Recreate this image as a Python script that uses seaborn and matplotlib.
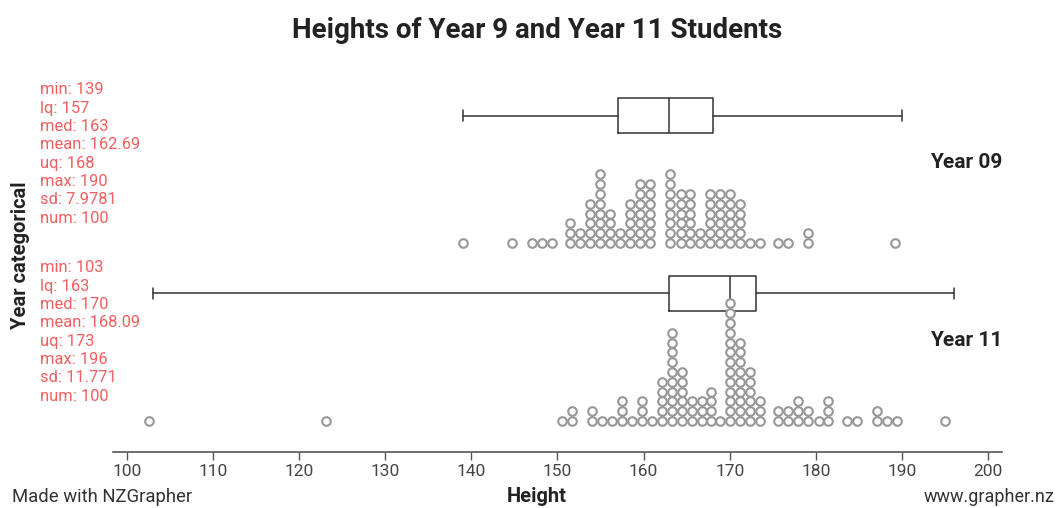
import numpy as np
import pandas as pd
import matplotlib
matplotlib.use("Agg")
import matplotlib.pyplot as plt
import seaborn as sns

# ---------------- data ----------------
title = "Heights of Year 9 and Year 11 Students"
groups = ["Year 09", "Year 11"]

# dot-plot columns: height position (cm) and number of stacked dots
year09_heights = [139.0, 144.7, 147.0, 148.2, 149.4, 151.4, 152.6, 153.8, 154.9, 156.1,
                  157.3, 158.4, 159.6, 160.7, 163.1, 164.3, 165.4, 166.6, 167.7, 168.9,
                  170.0, 171.2, 172.4, 173.5, 175.6, 176.8, 179.1, 189.2]
year09_counts = [1, 1, 1, 1, 1, 3, 2, 5, 8, 4,
                 2, 5, 7, 7, 8, 6, 6, 2, 6, 6,
                 6, 5, 1, 1, 1, 1, 2, 1]

year11_heights = [102.6, 123.1, 150.5, 151.7, 154.0, 155.2, 156.3, 157.5, 158.7, 159.8,
                  161.0, 162.1, 163.3, 164.5, 165.6, 166.8, 167.8, 168.9, 170.0, 171.2,
                  172.4, 173.5, 175.6, 176.8, 177.9, 179.1, 180.3, 181.4, 183.6, 184.8,
                  187.1, 188.3, 189.4, 195.0]
year11_counts = [1, 1, 1, 2, 2, 1, 1, 3, 1, 3,
                 1, 5, 10, 6, 3, 3, 4, 1, 13, 9,
                 6, 3, 2, 2, 3, 2, 1, 3, 1, 1,
                 2, 1, 1, 1]

stat_names = ["min", "lq", "med", "mean", "uq", "max", "sd", "num"]
year09_stats = ["139", "157", "163", "162.69", "168", "190", "7.9781", "100"]
year11_stats = ["103", "163", "170", "168.09", "173", "196", "11.771", "100"]

# five-number summaries for the box plots: min, lq, med, uq, max
year09_box = [139, 157, 163, 168, 190]
year11_box = [103, 163, 170, 173, 196]

x_ticks = [100, 110, 120, 130, 140, 150, 160, 170, 180, 190, 200]
x_label = "Height"
y_label = "Year categorical"

# ---------------- layout ----------------
W, H = 1059, 508
sns.set_theme(style="white")
plt.rcParams["font.family"] = ["Roboto", "DejaVu Sans"]

fig = plt.figure(figsize=(W / 100, H / 100), dpi=100)
ax_left, ax_right, ax_top, ax_bot = 113, 1002, 75, 452
ax = fig.add_axes([ax_left / W, 1 - ax_bot / H, (ax_right - ax_left) / W, (ax_bot - ax_top) / H])
ax.set_xlim(98.4, 201.6)
ax.set_ylim(0, ax_bot - ax_top)  # y in pixel units

baselines = [452 - 243, 452 - 421]
box_centres = [452 - 115.5, 452 - 293]
step = 9.8

rows = []
for g, hs, ns, base in zip(groups, [year09_heights, year11_heights],
                           [year09_counts, year11_counts], baselines):
    for h, n in zip(hs, ns):
        for i in range(n):
            rows.append({"group": g, "height": h, "stack": base + i * step})
df = pd.DataFrame(rows)

sns.scatterplot(data=df, x="height", y="stack", ax=ax, marker="o", s=38,
                color="white", edgecolor="#979797", linewidth=1.5, legend=False, zorder=3)

stats = []
for b in [year09_box, year11_box]:
    stats.append(dict(whislo=b[0], q1=b[1], med=b[2], q3=b[3], whishi=b[4], fliers=[]))
lp = dict(color="#333333", linewidth=1.1)
kw = dict(positions=box_centres, widths=35, showfliers=False, capwidths=11,
          boxprops=lp, whiskerprops=lp, capprops=lp, medianprops=lp, manage_ticks=False,
          patch_artist=False)
try:
    ax.bxp(stats, orientation="horizontal", **kw)
except TypeError:
    ax.bxp(stats, vert=False, **kw)

for s in ["top", "left", "right"]:
    ax.spines[s].set_visible(False)
ax.spines["bottom"].set_color("#555555")
ax.spines["bottom"].set_linewidth(1.2)
ax.set_xticks(x_ticks)
ax.set_yticks([])
ax.tick_params(axis="x", bottom=True, direction="out", length=6, width=1,
               color="#555555", labelsize=12.5, labelcolor="#444444", pad=3)
ax.set_xlabel("")
ax.set_ylabel("")

def fx(px):
    return px / W

def fy(py):
    return 1 - py / H

fig.text(fx(537), fy(30), title, ha="center", va="center", fontsize=20,
         fontweight="bold", color="#222222")
fig.text(fx(537), fy(497), x_label, ha="center", va="center", fontsize=14.5,
         fontweight="bold", color="#222222")
fig.text(fx(21), fy(255), y_label, ha="center", va="center", rotation=90,
         fontsize=14.5, fontweight="bold", color="#222222")
fig.text(fx(12), fy(497), "Made with NZGrapher", ha="left", va="center",
         fontsize=13.3, color="#333333")
fig.text(fx(1054), fy(497), "www.grapher.nz", ha="right", va="center",
         fontsize=13, color="#333333")

for g, ypx in zip(groups, [163, 340]):
    fig.text(fx(1002), fy(ypx), g, ha="right", va="center", fontsize=15,
             fontweight="bold", color="#222222")

for vals, y0 in zip([year09_stats, year11_stats], [90, 268]):
    for i, (n, v) in enumerate(zip(stat_names, vals)):
        fig.text(fx(40), fy(y0 + i * 18.3), f"{n}: {v}", ha="left", va="center",
                 fontsize=11.9, color="#f25f5f")

fig.savefig("out.png", dpi=100)
